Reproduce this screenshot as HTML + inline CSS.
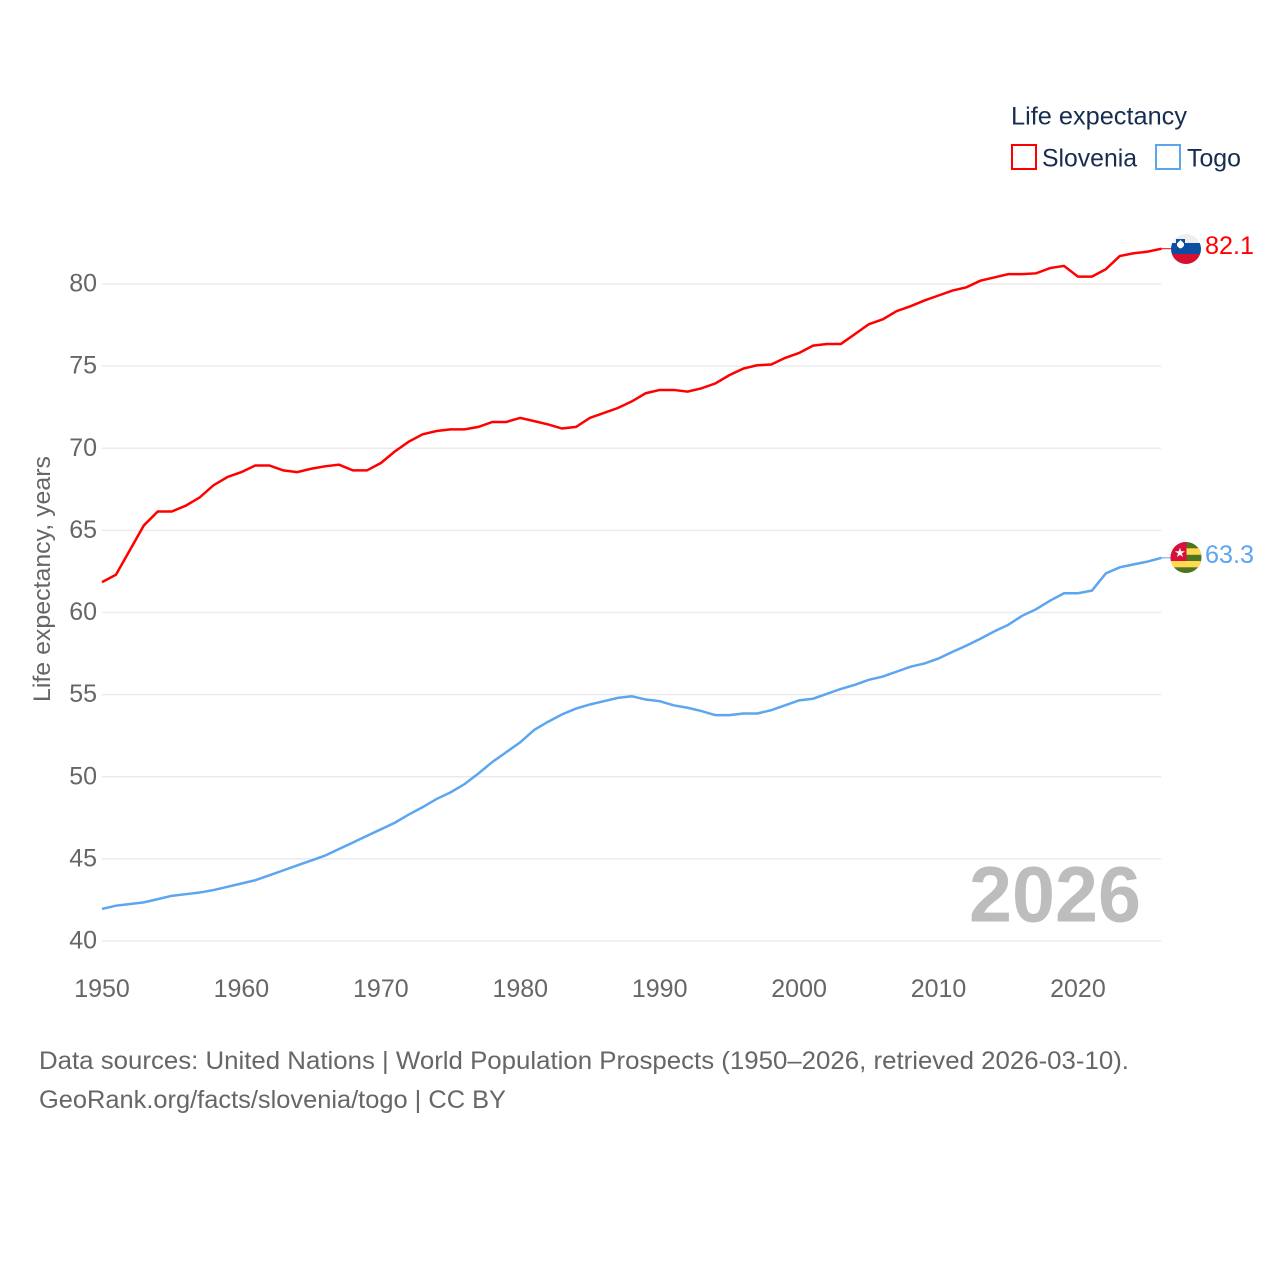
<!DOCTYPE html>
<html>
<head>
<meta charset="utf-8">
<title>Life expectancy: Slovenia and Togo</title>
<style>
html,body{margin:0;padding:0;background:#fff}
svg{display:block}
text{font-family:"Liberation Sans",sans-serif}
</style>
</head>
<body>
<svg id="chart" width="1280" height="1280" viewBox="0 0 1280 1280" xmlns="http://www.w3.org/2000/svg">
  <rect width="1280" height="1280" fill="#fff"/>
  <g id="grid"></g>
  <g id="yticks"></g>
  <g id="xticks"></g>
  <text transform="translate(50,702) rotate(-90)" font-size="24" fill="#666" textLength="246" lengthAdjust="spacingAndGlyphs">Life expectancy, years</text>
  <text x="969" y="921.500" font-size="79" font-weight="700" fill="#bdbdbd" textLength="172" lengthAdjust="spacingAndGlyphs">2026</text>
  <g id="series"></g>

  <g>
    <clipPath id="clip-si"><circle cx="1186" cy="249" r="15"/></clipPath>
    <g clip-path="url(#clip-si)">
      <rect x="1171" y="234" width="30" height="9.500" fill="#eeeeee"/>
      <rect x="1171" y="243" width="30" height="11" fill="#0b4ea2"/>
      <rect x="1171" y="254" width="30" height="10" fill="#d5112f"/>
      <path d="M1176 239h9v7q-1.500 3-4.500 4q-3-1-4.500-4z" fill="#0b4ea2"/>
      <path d="M1177 243.500l1.500-1.500l2-2l2 2l1.500 1.500v2q-1 2-3.500 3q-2.500-1-3.500-3z" fill="#fff"/>
    </g>
  </g>
  <g>
    <clipPath id="clip-tg"><circle cx="1186" cy="557.500" r="15.500"/></clipPath>
    <g clip-path="url(#clip-tg)">
      <rect x="1170" y="542" width="32" height="32" fill="#4f7420"/>
      <rect x="1170" y="548.300" width="32" height="6.500" fill="#ffd94f"/>
      <rect x="1170" y="561" width="32" height="6.300" fill="#ffd94f"/>
      <rect x="1170" y="542" width="16.500" height="19" fill="#d80f3a"/>
      <text x="1180" y="557" font-size="13" text-anchor="middle" fill="#f4f4f4">★</text>
    </g>
  </g>

  <text x="1205" y="254" font-size="25" fill="#ff0000" textLength="49" lengthAdjust="spacingAndGlyphs">82.1</text>
  <text x="1205" y="563" font-size="25" fill="#5ca5ef" textLength="49" lengthAdjust="spacingAndGlyphs">63.3</text>

  <g>
    <text x="1011" y="124.500" font-size="25" fill="#162d4f" textLength="176" lengthAdjust="spacingAndGlyphs">Life expectancy</text>
    <g>
      <rect x="1012" y="145" width="24" height="24" fill="#fff" stroke="#ff0000" stroke-width="2"/>
      <text x="1042" y="166.500" font-size="25" fill="#162d4f" textLength="95" lengthAdjust="spacingAndGlyphs">Slovenia</text>
    </g>
    <g>
      <rect x="1156" y="145" width="24" height="24" fill="#fff" stroke="#5ca5ef" stroke-width="2"/>
      <text x="1187" y="166.500" font-size="25" fill="#162d4f" textLength="54" lengthAdjust="spacingAndGlyphs">Togo</text>
    </g>
  </g>

  <text x="39" y="1069" font-size="25" fill="#666" textLength="1090" lengthAdjust="spacingAndGlyphs">Data sources: United Nations | World Population Prospects (1950–2026, retrieved 2026-03-10).</text>
  <text x="39" y="1108" font-size="25" fill="#666" textLength="467" lengthAdjust="spacingAndGlyphs">GeoRank.org/facts/slovenia/togo | CC BY</text>
</svg>
<script>
const yTicks = [40, 45, 50, 55, 60, 65, 70, 75, 80];
const xTicks = [1950, 1960, 1970, 1980, 1990, 2000, 2010, 2020];
const firstYear = 1950;
const lastYear = 2026;
const sloveniaValues = [61.85,62.3,63.8,65.3,66.15,66.15,66.5,67.0,67.75,68.25,68.55,68.95,68.95,68.65,68.55,68.75,68.9,69.0,68.65,68.65,69.1,69.8,70.4,70.85,71.05,71.15,71.15,71.3,71.6,71.6,71.85,71.65,71.45,71.2,71.3,71.85,72.15,72.45,72.85,73.35,73.55,73.55,73.45,73.65,73.95,74.45,74.85,75.05,75.1,75.5,75.8,76.25,76.35,76.35,76.95,77.55,77.85,78.35,78.65,79.0,79.3,79.6,79.8,80.2,80.4,80.6,80.6,80.65,80.97,81.1,80.45,80.45,80.9,81.7,81.87,81.97,82.15];
const togoValues = [41.95,42.15,42.25,42.35,42.55,42.75,42.85,42.95,43.1,43.3,43.5,43.7,44.0,44.3,44.6,44.9,45.2,45.6,46.0,46.4,46.8,47.2,47.7,48.15,48.65,49.05,49.55,50.2,50.9,51.5,52.1,52.85,53.35,53.8,54.15,54.4,54.6,54.8,54.9,54.7,54.6,54.35,54.2,54.0,53.75,53.75,53.85,53.85,54.05,54.35,54.65,54.75,55.05,55.35,55.6,55.9,56.1,56.4,56.7,56.9,57.2,57.6,57.98,58.4,58.85,59.25,59.8,60.2,60.72,61.17,61.17,61.33,62.38,62.75,62.93,63.1,63.33];

const NS = 'http://www.w3.org/2000/svg';
function xScale(year) { return 102 + (year - firstYear) * (1161.6 - 102) / (lastYear - firstYear); }
function yScale(v) { return 941 - (v - 40) * 16.425; }

const grid = document.getElementById('grid');
const yLabels = document.getElementById('yticks');
const xLabels = document.getElementById('xticks');
const seriesGroup = document.getElementById('series');

yTicks.forEach(function (t) {
  const line = document.createElementNS(NS, 'line');
  
  
  line.setAttribute('x1', 102);
  line.setAttribute('x2', 1161);
  line.setAttribute('y1', yScale(t));
  line.setAttribute('y2', yScale(t));
  line.setAttribute('stroke', '#ebebeb');
  line.setAttribute('stroke-width', 1.5);
  grid.appendChild(line);

  const label = document.createElementNS(NS, 'text');
  
  
  label.setAttribute('x', 97);
  label.setAttribute('y', yScale(t) + 7.5);
  label.setAttribute('text-anchor', 'end');
  label.setAttribute('font-size', 25);
  label.setAttribute('fill', '#666');
  label.textContent = t;
  yLabels.appendChild(label);
});

xTicks.forEach(function (t) {
  const label = document.createElementNS(NS, 'text');
  
  
  label.setAttribute('x', xScale(t));
  label.setAttribute('y', 997);
  label.setAttribute('text-anchor', 'middle');
  label.setAttribute('font-size', 25);
  label.setAttribute('fill', '#666');
  label.textContent = t;
  xLabels.appendChild(label);
});

function linePath(values) {
  return values.map(function (v, i) {
    return (i ? 'L' : 'M') + xScale(firstYear + i).toFixed(2) + ' ' + yScale(v).toFixed(2);
  }).join(' ');
}

const sloveniaLine = document.createElementNS(NS, 'path');


sloveniaLine.setAttribute('d', linePath(sloveniaValues));
sloveniaLine.setAttribute('fill', 'none');
sloveniaLine.setAttribute('stroke', '#ff0000');
sloveniaLine.setAttribute('stroke-width', 2.5);
seriesGroup.appendChild(sloveniaLine);

const togoLine = document.createElementNS(NS, 'path');


togoLine.setAttribute('d', linePath(togoValues));
togoLine.setAttribute('fill', 'none');
togoLine.setAttribute('stroke', '#5ca5ef');
togoLine.setAttribute('stroke-width', 2.5);
seriesGroup.appendChild(togoLine);

const sloveniaConnector = document.createElementNS(NS, 'line');


sloveniaConnector.setAttribute('x1', xScale(lastYear));
sloveniaConnector.setAttribute('x2', 1172);
sloveniaConnector.setAttribute('y1', yScale(sloveniaValues[sloveniaValues.length - 1]));
sloveniaConnector.setAttribute('y2', yScale(sloveniaValues[sloveniaValues.length - 1]));
sloveniaConnector.setAttribute('stroke', '#ff0000');
sloveniaConnector.setAttribute('stroke-width', 1);
seriesGroup.appendChild(sloveniaConnector);

const togoConnector = document.createElementNS(NS, 'line');


togoConnector.setAttribute('x1', xScale(lastYear));
togoConnector.setAttribute('x2', 1172);
togoConnector.setAttribute('y1', yScale(togoValues[togoValues.length - 1]));
togoConnector.setAttribute('y2', yScale(togoValues[togoValues.length - 1]));
togoConnector.setAttribute('stroke', '#5ca5ef');
togoConnector.setAttribute('stroke-width', 1);
seriesGroup.appendChild(togoConnector);
</script>
</body>
</html>
